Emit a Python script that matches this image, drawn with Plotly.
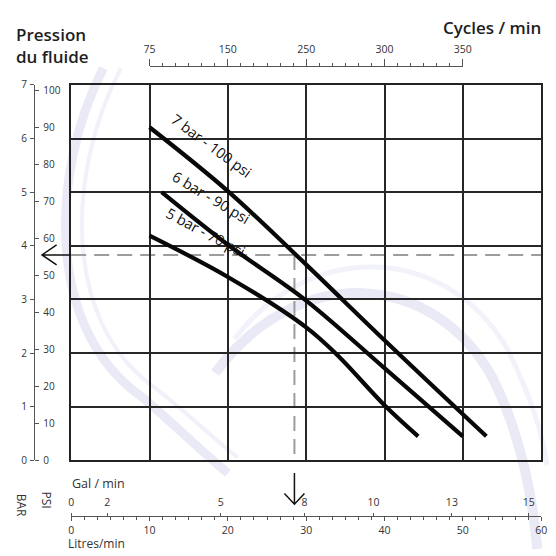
import plotly.graph_objects as go

# ---------------- data ----------------
flow_7bar = [10, 20, 30, 40, 53]
pres_7bar = [6.21, 5.02, 3.65, 2.24, 0.45]

flow_6bar = [11.55, 20, 30, 40, 50]
pres_6bar = [5.0, 4.02, 2.98, 1.72, 0.45]

flow_5bar = [10, 20, 30, 34, 40, 44.3]
pres_5bar = [4.19, 3.42, 2.48, 1.96, 1.03, 0.45]

curve_names = ["7 bar - 100 psi", "6 bar - 90 psi", "5 bar - 70 psi"]

op_flow = 28.5   # L/min, operating point
op_bar = 3.83    # bar

litre_ticks = [0, 10, 20, 30, 40, 50, 60]
gal_labels = ["0", "2", "5", "8", "10", "13", "15"]
gal_pos_lpm = [0, 4.6, 19.1, 29.8, 38.6, 48.6, 58.4]
cycle_labels = ["75", "150", "250", "300", "350"]
cycle_pos_lpm = [10, 20, 30, 40, 50]
bar_ticks = [0, 1, 2, 3, 4, 5, 6, 7]
psi_ticks = [0, 10, 20, 30, 40, 50, 60, 70, 80, 90, 100]
BAR_MAX = 7
PSI_MAX = 7 * 14.5038
FLOW_MAX = 60

# ---------------- layout helpers (window pixels -> paper) ----------------
W = H = 556
PL, PR, PT, PB = 67, 550, 79, 465


def fx(px):
    return px / W


def fy(py):
    return 1 - py / H


FONT = "Open Sans"
INK = "#1e1e1e"
AX = "#555555"
GRID = "#262626"

fig = go.Figure()

for fl, pr, nm in [(flow_7bar, pres_7bar, curve_names[0]),
                   (flow_6bar, pres_6bar, curve_names[1]),
                   (flow_5bar, pres_5bar, curve_names[2])]:
    fig.add_trace(go.Scatter(x=fl, y=pr, mode="lines", name=nm,
                             line=dict(color="#080808", width=4.2, shape="spline", smoothing=1.0),
                             showlegend=False, hoverinfo="skip"))

# dummy traces so that the secondary axes get drawn
for xa, ya in [("x2", "y"), ("x3", "y"), ("x", "y2"), ("x", "y3"), ("x4", "y4")]:
    fig.add_trace(go.Scatter(x=[None], y=[None], xaxis=xa, yaxis=ya,
                             showlegend=False, hoverinfo="skip"))

x_dom = [fx(PL), fx(PR)]
y_dom = [fy(PB), fy(PT)]
c0 = PL + (PR - PL) * min(cycle_pos_lpm) / FLOW_MAX
c1 = PL + (PR - PL) * max(cycle_pos_lpm) / FLOW_MAX

tickfont = dict(family=FONT, size=10.5, color="#333333")

fig.update_layout(
    width=W, height=H, autosize=False,
    margin=dict(l=0, r=0, t=0, b=0),
    paper_bgcolor="white", plot_bgcolor="rgba(0,0,0,0)",
    font=dict(family=FONT, color=INK),
    xaxis=dict(domain=x_dom, range=[0, FLOW_MAX], anchor="y",
               tickmode="linear", tick0=0, dtick=10, showticklabels=False, ticks="",
               showgrid=True, gridcolor=GRID, gridwidth=1.8, zeroline=False,
               showline=True, mirror=True, linecolor="#222222", linewidth=2.4),
    yaxis=dict(domain=y_dom, range=[0, BAR_MAX], anchor="x",
               tickmode="linear", tick0=0, dtick=1, showticklabels=False, ticks="",
               showgrid=True, gridcolor=GRID, gridwidth=1.8, zeroline=False,
               showline=True, mirror=True, linecolor="#222222", linewidth=2.4),
    # Litres/min axis (bottom)
    xaxis2=dict(overlaying="x", anchor="free", position=fy(522), side="bottom",
                range=[0, FLOW_MAX], tickmode="array", tickvals=litre_ticks,
                ticks="outside", ticklen=4, tickwidth=1.2, tickcolor=AX,
                showline=True, linecolor=AX, linewidth=1.3, showgrid=False, zeroline=False,
                tickfont=tickfont, ticklabelstandoff=0,
                minor=dict(tickmode="linear", tick0=0, dtick=10 / 6, ticks="outside",
                           ticklen=3, tickcolor=AX, tickwidth=1, showgrid=False)),
    # Gal/min axis (same line, labels above)
    xaxis3=dict(overlaying="x", anchor="free", position=fy(522), side="top",
                range=[0, FLOW_MAX], tickmode="array", tickvals=gal_pos_lpm, ticktext=gal_labels,
                ticks="outside", ticklen=3, tickwidth=1.2, tickcolor=AX,
                showline=False, showgrid=False, zeroline=False,
                tickfont=tickfont, ticklabelstandoff=3),
    # Cycles/min axis (top)
    xaxis4=dict(domain=[fx(c0), fx(c1)], anchor="free", position=fy(60), side="top",
                range=[min(cycle_pos_lpm), max(cycle_pos_lpm)], tickmode="array",
                tickvals=cycle_pos_lpm, ticktext=cycle_labels,
                ticks="outside", ticklen=7, tickwidth=1.2, tickcolor=AX,
                showline=True, linecolor=AX, linewidth=1.3, showgrid=False, zeroline=False,
                tickfont=tickfont, ticklabelstandoff=2,
                minor=dict(tickmode="linear", tick0=10, dtick=10 / 6, ticks="outside",
                           ticklen=3, tickcolor=AX, tickwidth=1, showgrid=False)),
    yaxis4=dict(domain=y_dom, anchor="x4", range=[0, 1], visible=False),
    # BAR axis
    yaxis2=dict(overlaying="y", anchor="free", position=fx(29), side="left",
                range=[0, BAR_MAX], tickmode="array", tickvals=bar_ticks,
                ticks="outside", ticklen=4, tickwidth=1.2, tickcolor=AX,
                showline=True, linecolor=AX, linewidth=1.3, showgrid=False, zeroline=False,
                tickfont=dict(family=FONT, size=10, color="#333333"), ticklabelstandoff=1),
    # PSI axis
    yaxis3=dict(overlaying="y", anchor="free", position=fx(29), side="right",
                range=[0, PSI_MAX], tickmode="array", tickvals=psi_ticks,
                ticks="outside", ticklen=4, tickwidth=1.2, tickcolor=AX,
                showline=False, showgrid=False, zeroline=False,
                tickfont=dict(family=FONT, size=10, color="#333333"), ticklabelstandoff=2),
)

# ---------------- watermark arcs ----------------
wm = "#e9eaf5"
left_arc = (f"M {fx(100)},{fy(62)} C {fx(45)},{fy(170)} {fx(40)},{fy(330)} {fx(140)},{fy(400)} "
            f"C {fx(170)},{fy(425)} {fx(200)},{fy(455)} {fx(228)},{fy(478)}")
left_arc2 = (f"M {fx(118)},{fy(62)} C {fx(62)},{fy(170)} {fx(58)},{fy(320)} {fx(150)},{fy(388)} "
             f"C {fx(180)},{fy(410)} {fx(210)},{fy(440)} {fx(238)},{fy(462)}")
right_arc = (f"M {fx(215)},{fy(375)} C {fx(300)},{fy(260)} {fx(440)},{fy(270)} {fx(500)},{fy(380)} "
             f"C {fx(525)},{fy(430)} {fx(540)},{fy(490)} {fx(546)},{fy(556)}")
right_arc2 = (f"M {fx(235)},{fy(340)} C {fx(310)},{fy(240)} {fx(450)},{fy(240)} {fx(515)},{fy(350)} "
              f"C {fx(540)},{fy(400)} {fx(552)},{fy(440)} {fx(556)},{fy(470)}")
for p, w, c in [(left_arc, 9, wm), (left_arc2, 4, "#f1f2f9"), (right_arc, 10, wm), (right_arc2, 5, "#f2f3fa")]:
    fig.add_shape(type="path", path=p, xref="paper", yref="paper",
                  line=dict(color=c, width=w), layer="below")

# ---------------- operating point guides ----------------
fig.add_shape(type="line", xref="x", yref="y", x0=0, x1=FLOW_MAX, y0=op_bar, y1=op_bar,
              line=dict(color="#9c9c9c", width=2, dash="15px,8px"), layer="below")
fig.add_shape(type="line", xref="x", yref="y", x0=op_flow, x1=op_flow, y0=op_bar, y1=-0.15,
              line=dict(color="#9c9c9c", width=2, dash="15px,8px"), layer="below")
# down arrow to the flow axis
fig.add_shape(type="path", xref="x", xsizemode="pixel", xanchor=op_flow, yref="paper",
              path=(f"M 0,{fy(478)} L 0,{fy(510)} M -10,{fy(499)} L 0,{fy(510)} "
                    f"L 10,{fy(499)}"),
              line=dict(color="#111111", width=1.5))
# left arrow to the pressure axis
fig.add_shape(type="path", yref="y", ysizemode="pixel", yanchor=op_bar, xref="paper",
              path=(f"M {fx(PL)},0 L {fx(37)},0 M {fx(52)},10 L {fx(37)},0 "
                    f"L {fx(52)},-10"),
              line=dict(color="#111111", width=1.5))

# ---------------- texts ----------------
label_pos = [(17.9, 5.87, 36.5), (17.9, 4.91, 31), (17.2, 4.24, 28)]
for nm, (lx, ly, ang) in zip(curve_names, label_pos):
    fig.add_annotation(x=lx, y=ly, xref="x", yref="y", text=nm, showarrow=False,
                       textangle=ang, xanchor="center", yanchor="middle",
                       font=dict(family=FONT, size=14.5, color="#111111"))

fig.add_annotation(x=fx(8), y=fy(13), xref="paper", yref="paper", xanchor="left", yanchor="top",
                   text="Pression<br>du fluide", align="left", showarrow=False,
                   font=dict(family=FONT, size=17, color=INK, weight=600))
fig.add_annotation(x=fx(552), y=fy(20), xref="paper", yref="paper", xanchor="right", yanchor="middle",
                   text="Cycles / min", showarrow=False,
                   font=dict(family=FONT, size=17, color=INK, weight=600))
fig.add_annotation(x=fx(66), y=fy(489), xref="paper", yref="paper", xanchor="left", yanchor="middle",
                   text="Gal / min", showarrow=False,
                   font=dict(family=FONT, size=12.5, color="#333333"))
fig.add_annotation(x=fx(62), y=fy(550), xref="paper", yref="paper", xanchor="left", yanchor="middle",
                   text="Litres/min", showarrow=False,
                   font=dict(family=FONT, size=12, color="#333333"))
fig.add_annotation(x=fx(16), y=fy(511), xref="paper", yref="paper", xanchor="center", yanchor="middle",
                   text="BAR", textangle=90, showarrow=False,
                   font=dict(family=FONT, size=12, color="#333333"))
fig.add_annotation(x=fx(42), y=fy(506), xref="paper", yref="paper", xanchor="center", yanchor="middle",
                   text="PSI", textangle=90, showarrow=False,
                   font=dict(family=FONT, size=12, color="#333333"))

fig.write_html(
    "out.html",
    config={"displayModeBar": False},
    post_script="document.body.style.margin='0';document.documentElement.style.overflow='hidden';",
)
